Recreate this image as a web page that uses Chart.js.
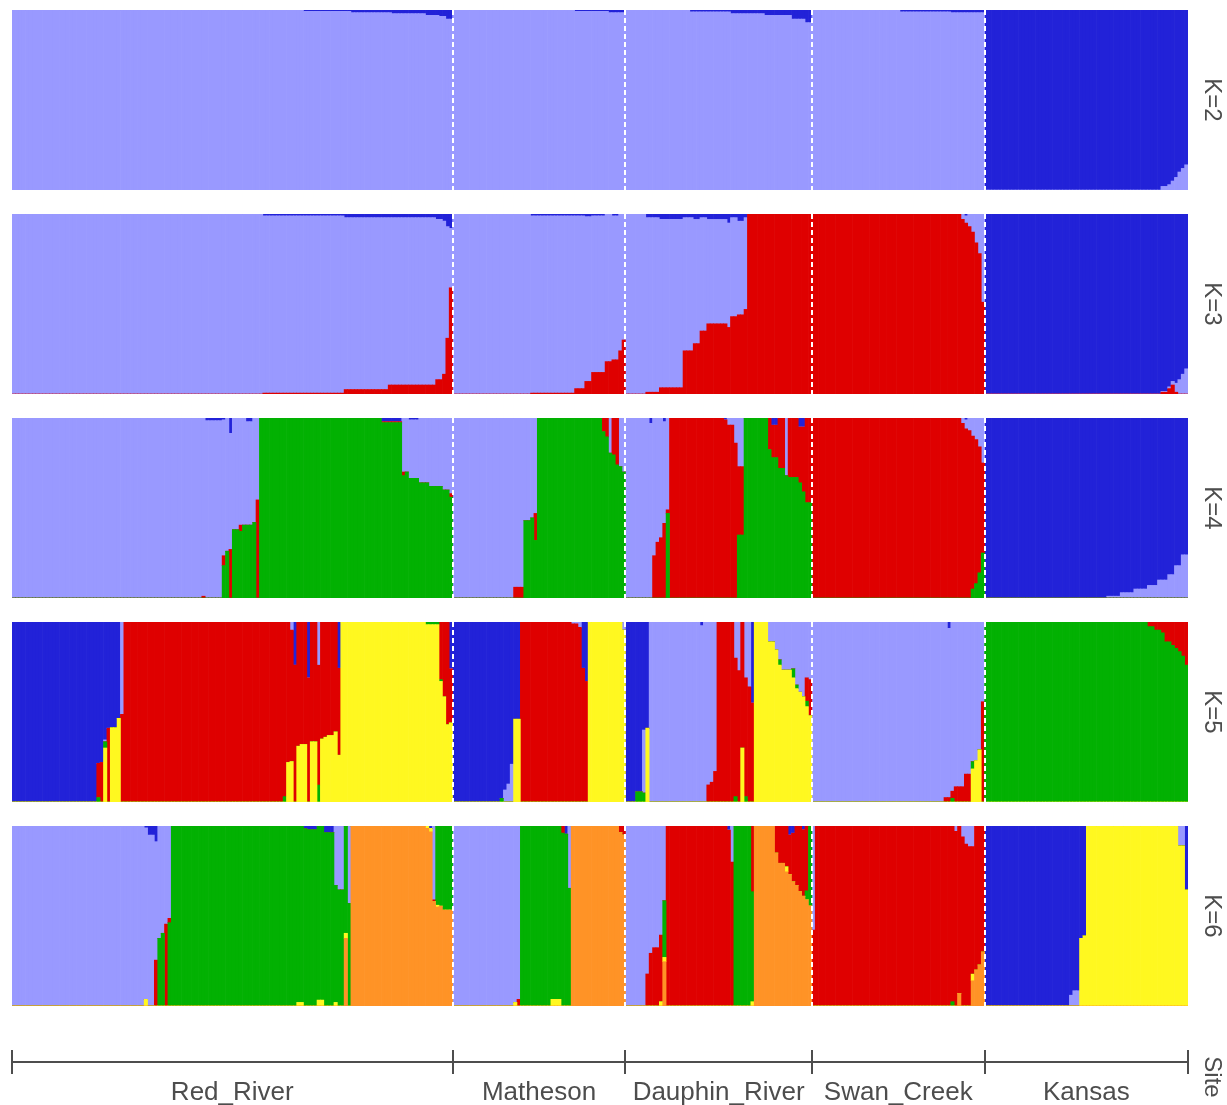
<!DOCTYPE html>
<html>
<head>
<meta charset="utf-8">
<title>Admixture proportions by site, K=2 to K=6</title>
<script src="https://cdn.jsdelivr.net/npm/chart.js@4.4.1/dist/chart.umd.min.js"></script>
<style>
  html, body { margin: 0; padding: 0; background: #ffffff; overflow: hidden; }
  #figure { position: relative; width: 1227px; height: 1105px; background: #ffffff; overflow: hidden; }
  #figure canvas { position: absolute; left: 0; }
  .strip {
    position: absolute; width: 180px; height: 30px; line-height: 30px;
    text-align: center; font-family: "Liberation Sans", Arial, sans-serif;
    font-size: 24px; color: #4d4d4d; transform: rotate(90deg);
  }
</style>
</head>
<body>
<div id="figure"></div>
<script>
// Sampling sites, left to right
const SITES = ['Red_River', 'Matheson', 'Dauphin_River', 'Swan_Creek', 'Kansas'];

// Cluster colours, listed from the top of each bar to the bottom
const CLUSTER_COLORS = ['#2222d8', '#9999ff', '#df0000', '#02b102', '#fff820', '#ff9326'];

const K_VALUES = [2, 3, 4, 5, 6];

// Membership runs per site: [number of individuals, q1, q2, ... qK]
// (cluster order as in CLUSTER_COLORS; omitted trailing entries are 0)

// ---------- K = 2 ----------
const K2_RED_RIVER = [
  [86, 0, 1], [14, 0.008, 0.992], [12, 0.015, 0.985], [10, 0.02, 0.98],
  [4, 0.03, 0.97], [2, 0.035, 0.965], [2, 0.05, 0.95]
];
const K2_MATHESON = [[36, 0, 1], [10, 0.008, 0.992], [5, 0.015, 0.985]];
const K2_DAUPHIN_RIVER = [
  [19, 0, 1], [12, 0.01, 0.99], [10, 0.02, 0.98], [8, 0.03, 0.97], [4, 0.05, 0.95], [2, 0.07, 0.93]
];
const K2_SWAN_CREEK = [[26, 0, 1], [15, 0.01, 0.99], [10, 0.015, 0.985]];
const K2_KANSAS = [
  [52, 1, 0], [2, 0.98, 0.02], [1, 0.97, 0.03], [1, 0.95, 0.05], [1, 0.93, 0.07],
  [1, 0.9, 0.1], [1, 0.88, 0.12], [1, 0.86, 0.14]
];

// ---------- K = 3 ----------
const K3_RED_RIVER = [
  [74, 0, 1, 0], [24, 0.01, 0.985, 0.005], [13, 0.02, 0.955, 0.025], [14, 0.02, 0.93, 0.05],
  [2, 0.03, 0.89, 0.08], [1, 0.04, 0.85, 0.11], [1, 0.07, 0.62, 0.31], [1, 0.08, 0.33, 0.59]
];
const K3_MATHESON = [
  [23, 0, 1, 0], [13, 0.01, 0.985, 0.005], [3, 0.01, 0.96, 0.03], [2, 0.015, 0.915, 0.07],
  [4, 0.01, 0.87, 0.12], [2, 0, 0.82, 0.18], [2, 0.01, 0.8, 0.19], [1, 0, 0.76, 0.24], [1, 0, 0.7, 0.3]
];
const K3_DAUPHIN_RIVER = [
  [6, 0, 1, 0], [4, 0.02, 0.97, 0.01], [7, 0.03, 0.935, 0.035], [3, 0.02, 0.74, 0.24],
  [2, 0.03, 0.69, 0.28], [2, 0.02, 0.63, 0.35], [6, 0.03, 0.58, 0.39], [1, 0.05, 0.58, 0.37],
  [2, 0.02, 0.55, 0.43], [2, 0.04, 0.52, 0.44], [1, 0.02, 0.51, 0.47], [19, 0, 0, 1]
];
const K3_SWAN_CREEK = [
  [44, 0, 0, 1], [1, 0, 0.03, 0.97], [1, 0.01, 0.04, 0.95], [1, 0, 0.07, 0.93],
  [1, 0, 0.1, 0.9], [1, 0, 0.16, 0.84], [1, 0, 0.22, 0.78], [1, 0, 0.49, 0.51]
];
const K3_KANSAS = [
  [52, 1, 0, 0], [2, 0.985, 0.005, 0.01], [1, 0.96, 0.01, 0.03], [1, 0.93, 0.02, 0.05],
  [1, 0.94, 0.05, 0.01], [1, 0.92, 0.08, 0], [1, 0.89, 0.11, 0], [1, 0.86, 0.14, 0]
];

// ---------- K = 4 ----------
const K4_RED_RIVER = [
  [56, 0, 1, 0, 0], [1, 0, 0.99, 0.01, 0], [5, 0.015, 0.985, 0, 0], [1, 0.01, 0.755, 0.055, 0.18],
  [1, 0, 0.74, 0, 0.26], [1, 0.085, 0.645, 0.27, 0], [1, 0, 0.62, 0, 0.38], [1, 0, 0.62, 0, 0.38],
  [1, 0, 0.595, 0.035, 0.37], [1, 0, 0.595, 0, 0.405], [2, 0.02, 0.575, 0, 0.405], [1, 0, 0.58, 0, 0.42],
  [1, 0, 0.455, 0.545, 0], [36, 0, 0, 0, 1], [6, 0.02, 0, 0.005, 0.975], [1, 0, 0.3, 0.02, 0.68],
  [1, 0, 0.3, 0, 0.7], [3, 0.01, 0.325, 0, 0.665], [3, 0, 0.36, 0, 0.64], [4, 0, 0.38, 0, 0.62],
  [2, 0, 0.4, 0, 0.6], [1, 0, 0.42, 0.02, 0.56]
];
const K4_MATHESON = [
  [18, 0, 1, 0, 0], [3, 0, 0.94, 0.06, 0], [2, 0, 0.57, 0, 0.43], [1, 0, 0.555, 0, 0.445],
  [1, 0, 0.53, 0.15, 0.32], [19, 0, 0, 0, 1], [1, 0, 0, 0.075, 0.925], [1, 0, 0, 0.105, 0.895],
  [1, 0, 0.195, 0, 0.805], [1, 0, 0, 0.205, 0.795], [1, 0, 0, 0.26, 0.74], [1, 0, 0.27, 0, 0.73],
  [1, 0, 0.3, 0, 0.7]
];
const K4_DAUPHIN_RIVER = [
  [7, 0, 1, 0, 0], [1, 0.03, 0.97, 0, 0], [1, 0, 0.765, 0.235, 0], [1, 0, 0.69, 0.31, 0],
  [1, 0, 0.665, 0.335, 0], [1, 0.02, 0.565, 0.415, 0], [1, 0, 0.51, 0.02, 0.47], [16, 0, 0, 1, 0],
  [1, 0.01, 0, 0.99, 0], [2, 0, 0.04, 0.96, 0], [1, 0, 0.14, 0.86, 0], [2, 0, 0.27, 0.38, 0.35],
  [7, 0, 0, 0, 1], [1, 0, 0, 0.175, 0.825], [2, 0.04, 0, 0.18, 0.78], [2, 0, 0, 0.28, 0.72],
  [1, 0, 0.32, 0, 0.68], [3, 0, 0, 0.33, 0.67], [1, 0.05, 0, 0.31, 0.64], [1, 0.05, 0, 0.36, 0.59],
  [2, 0, 0, 0.47, 0.53]
];
const K4_SWAN_CREEK = [
  [44, 0, 0, 1, 0], [1, 0, 0.03, 0.97, 0], [1, 0.01, 0.05, 0.94, 0], [1, 0, 0.07, 0.93, 0],
  [1, 0, 0.1, 0.85, 0.05], [1, 0, 0.12, 0.8, 0.08], [1, 0, 0.16, 0.7, 0.14], [1, 0, 0.25, 0.5, 0.25]
];
const K4_KANSAS = [
  [36, 1, 0, 0, 0], [4, 0.99, 0.01, 0, 0], [4, 0.97, 0.03, 0, 0], [4, 0.95, 0.05, 0, 0],
  [3, 0.93, 0.07, 0, 0], [3, 0.9, 0.1, 0, 0], [2, 0.87, 0.13, 0, 0], [2, 0.82, 0.18, 0, 0],
  [2, 0.76, 0.24, 0, 0]
];

// ---------- K = 5 ----------
const K5_RED_RIVER = [
  [25, 1, 0, 0, 0, 0], [1, 0.785, 0, 0.19, 0.025, 0], [1, 0.78, 0, 0.22, 0, 0],
  [1, 0.655, 0.01, 0, 0.035, 0.3], [1, 0.59, 0, 0.41, 0, 0], [2, 0.587, 0, 0, 0, 0.413],
  [1, 0.535, 0, 0, 0, 0.465], [1, 0, 0.513, 0.487, 0, 0], [47, 0, 0, 1, 0, 0],
  [1, 0, 0, 0.97, 0.03, 0], [1, 0, 0, 0.78, 0, 0.22], [1, 0, 0.045, 0.73, 0, 0.225],
  [1, 0.24, 0, 0.76, 0, 0], [1, 0, 0, 0.69, 0, 0.31], [2, 0, 0, 0.68, 0, 0.32],
  [1, 0.31, 0, 0.69, 0, 0], [2, 0, 0, 0.665, 0, 0.335], [1, 0, 0.24, 0.666, 0.094, 0],
  [1, 0, 0, 0.65, 0, 0.35], [1, 0, 0, 0.64, 0, 0.36], [2, 0, 0, 0.63, 0, 0.37],
  [1, 0, 0, 0.61, 0, 0.39], [1, 0.257, 0, 0.483, 0, 0.26], [25, 0, 0, 0, 0, 1],
  [4, 0, 0, 0, 0.015, 0.985], [1, 0, 0, 0.32, 0.01, 0.67], [1, 0, 0, 0.415, 0, 0.585],
  [1, 0, 0, 0.57, 0, 0.43], [1, 0.26, 0, 0.3, 0, 0.44]
];
const K5_MATHESON = [
  [14, 1, 0, 0, 0, 0], [1, 0.98, 0, 0, 0.02, 0], [1, 0.933, 0.067, 0, 0, 0], [1, 0.9, 0.1, 0, 0, 0],
  [1, 0.79, 0.21, 0, 0, 0], [2, 0.54, 0, 0, 0, 0.46], [15, 0, 0, 1, 0, 0], [2, 0, 0.01, 0.99, 0, 0],
  [1, 0, 0.03, 0.97, 0, 0], [1, 0.257, 0, 0.743, 0, 0], [1, 0.33, 0, 0.67, 0, 0],
  [10, 0, 0, 0, 0, 1], [1, 0, 0.045, 0, 0, 0.955]
];
const K5_DAUPHIN_RIVER = [
  [3, 1, 0, 0, 0, 0], [2, 0.943, 0, 0, 0.057, 0], [1, 0.6, 0.35, 0, 0.05, 0], [1, 0.59, 0, 0, 0, 0.41],
  [15, 0, 1, 0, 0, 0], [1, 0.02, 0.98, 0, 0, 0], [1, 0, 1, 0, 0, 0], [1, 0, 0.905, 0.095, 0, 0],
  [1, 0, 0.89, 0.11, 0, 0], [1, 0, 0.83, 0.17, 0, 0], [5, 0, 0, 1, 0, 0], [1, 0, 0.2, 0.77, 0.03, 0],
  [1, 0, 0.27, 0.73, 0, 0], [1, 0, 0, 0.7, 0, 0.3], [1, 0, 0.31, 0.66, 0.03, 0], [1, 0, 0.36, 0.64, 0, 0],
  [1, 0.45, 0, 0.55, 0, 0], [4, 0, 0, 0, 0, 1], [2, 0, 0.11, 0, 0, 0.89], [1, 0, 0.155, 0, 0, 0.845],
  [1, 0, 0.21, 0, 0.03, 0.76], [3, 0, 0.267, 0, 0, 0.733], [1, 0, 0.26, 0, 0.05, 0.69],
  [1, 0, 0.35, 0, 0.02, 0.63], [1, 0, 0.39, 0, 0, 0.61], [1, 0, 0.415, 0, 0, 0.585],
  [1, 0, 0.31, 0.13, 0.03, 0.53], [1, 0, 0.32, 0.2, 0, 0.48]
];
const K5_SWAN_CREEK = [
  [39, 0, 1, 0, 0, 0], [1, 0, 0.975, 0.025, 0, 0], [1, 0.035, 0.94, 0.025, 0, 0],
  [1, 0, 0.94, 0.04, 0.02, 0], [3, 0, 0.915, 0.085, 0, 0], [2, 0, 0.845, 0.155, 0, 0],
  [1, 0, 0.776, 0, 0.04, 0.184], [1, 0, 0.77, 0, 0, 0.23], [1, 0, 0.71, 0, 0, 0.29],
  [1, 0, 0.443, 0.557, 0, 0]
];
const K5_KANSAS = [
  [48, 0, 0, 0, 1, 0], [2, 0, 0, 0.026, 0.974, 0], [2, 0, 0, 0.045, 0.955, 0], [1, 0, 0, 0.06, 0.94, 0],
  [2, 0, 0, 0.11, 0.89, 0], [1, 0, 0, 0.13, 0.87, 0], [1, 0, 0, 0.146, 0.854, 0],
  [1, 0, 0, 0.165, 0.835, 0], [1, 0, 0, 0.19, 0.81, 0], [1, 0, 0, 0.24, 0.76, 0]
];

// ---------- K = 6 ----------
const K6_RED_RIVER = [
  [39, 0, 1, 0, 0, 0, 0], [1, 0.01, 0.953, 0, 0, 0.037, 0], [2, 0.05, 0.95, 0, 0, 0, 0],
  [1, 0.087, 0.658, 0.255, 0, 0, 0], [1, 0, 0.624, 0, 0.376, 0, 0], [1, 0, 0.596, 0, 0.404, 0, 0],
  [1, 0, 0.545, 0.455, 0, 0, 0], [1, 0, 0.513, 0.024, 0.463, 0, 0], [37, 0, 0, 0, 1, 0, 0],
  [2, 0, 0, 0, 0.98, 0.02, 0], [1, 0.015, 0, 0, 0.985, 0, 0], [3, 0.02, 0, 0, 0.98, 0, 0],
  [2, 0, 0, 0, 0.967, 0.033, 0], [3, 0.037, 0, 0, 0.963, 0, 0], [1, 0, 0.33, 0, 0.65, 0.02, 0],
  [2, 0, 0.355, 0, 0.645, 0, 0], [1, 0, 0, 0, 0.596, 0.028, 0.376], [1, 0, 0.43, 0, 0.57, 0, 0],
  [22, 0, 0, 0, 0, 0, 1], [1, 0, 0, 0, 0, 0.013, 0.987], [1, 0.013, 0, 0, 0, 0.02, 0.967],
  [1, 0, 0.41, 0.01, 0, 0, 0.58], [1, 0, 0, 0, 0.44, 0.01, 0.55], [1, 0, 0, 0, 0.445, 0, 0.555],
  [3, 0, 0, 0, 0.467, 0, 0.533]
];
const K6_MATHESON = [
  [18, 0, 1, 0, 0, 0, 0], [1, 0, 0.98, 0, 0, 0.02, 0], [1, 0, 0.963, 0.037, 0, 0, 0],
  [9, 0, 0, 0, 1, 0, 0], [3, 0, 0, 0, 0.963, 0.037, 0], [1, 0, 0, 0.04, 0.96, 0, 0],
  [1, 0.045, 0, 0, 0.955, 0, 0], [1, 0, 0.346, 0, 0.654, 0, 0], [14, 0, 0, 0, 0, 0, 1],
  [1, 0, 0, 0.037, 0, 0, 0.963], [1, 0, 0, 0.05, 0, 0, 0.95]
];
const K6_DAUPHIN_RIVER = [
  [6, 0, 1, 0, 0, 0, 0], [1, 0, 0.822, 0.178, 0, 0, 0], [1, 0, 0.707, 0.293, 0, 0, 0],
  [2, 0, 0.676, 0.324, 0, 0, 0], [1, 0, 0.606, 0.37, 0, 0.024, 0], [1, 0, 0.415, 0, 0.315, 0.024, 0.246],
  [18, 0, 0, 1, 0, 0, 0], [1, 0.022, 0, 0.978, 0, 0, 0], [1, 0, 0.2, 0.8, 0, 0, 0],
  [5, 0, 0, 0, 1, 0, 0], [1, 0, 0, 0.365, 0.611, 0.024, 0], [6, 0, 0, 0, 0, 0, 1],
  [1, 0, 0, 0.15, 0, 0, 0.85], [2, 0, 0, 0.207, 0, 0, 0.793], [1, 0, 0, 0.226, 0, 0.028, 0.746],
  [1, 0.05, 0, 0.22, 0, 0, 0.73], [1, 0.04, 0, 0.27, 0, 0, 0.69], [1, 0, 0, 0.33, 0, 0, 0.67],
  [1, 0, 0, 0.365, 0, 0, 0.635], [1, 0.02, 0, 0.37, 0, 0, 0.61], [1, 0, 0, 0.36, 0.05, 0, 0.59],
  [1, 0, 0, 0, 0.444, 0, 0.556]
];
const K6_SWAN_CREEK = [
  [1, 0, 0.578, 0.422, 0, 0, 0], [40, 0, 0, 1, 0, 0, 0], [1, 0, 0, 0.976, 0.024, 0, 0],
  [1, 0, 0.03, 0.97, 0, 0, 0], [1, 0, 0, 0.93, 0, 0, 0.07], [1, 0, 0.06, 0.94, 0, 0, 0],
  [1, 0, 0.1, 0.9, 0, 0, 0], [1, 0, 0.115, 0.885, 0, 0, 0], [1, 0, 0.115, 0.708, 0, 0.037, 0.14],
  [1, 0, 0, 0.8, 0, 0, 0.2], [1, 0, 0, 0.772, 0, 0, 0.228], [1, 0, 0, 0.7, 0, 0, 0.3]
];
const K6_KANSAS = [
  [25, 1, 0, 0, 0, 0, 0], [1, 0.94, 0.06, 0, 0, 0, 0], [2, 0.915, 0.085, 0, 0, 0, 0],
  [1, 0.624, 0, 0, 0, 0.376, 0], [1, 0.61, 0, 0, 0, 0.39, 0], [27, 0, 0, 0, 0, 1, 0],
  [2, 0, 0.11, 0, 0, 0.89, 0], [1, 0.355, 0, 0, 0, 0.645, 0]
];

const RUNS_BY_K = {
  2: [K2_RED_RIVER, K2_MATHESON, K2_DAUPHIN_RIVER, K2_SWAN_CREEK, K2_KANSAS],
  3: [K3_RED_RIVER, K3_MATHESON, K3_DAUPHIN_RIVER, K3_SWAN_CREEK, K3_KANSAS],
  4: [K4_RED_RIVER, K4_MATHESON, K4_DAUPHIN_RIVER, K4_SWAN_CREEK, K4_KANSAS],
  5: [K5_RED_RIVER, K5_MATHESON, K5_DAUPHIN_RIVER, K5_SWAN_CREEK, K5_KANSAS],
  6: [K6_RED_RIVER, K6_MATHESON, K6_DAUPHIN_RIVER, K6_SWAN_CREEK, K6_KANSAS]
};

// Layout of the figure (pixels)
const PLOT_LEFT = 12, PLOT_RIGHT = 1188, FIG_WIDTH = 1227;
const PANEL_TOP = [10, 214, 418, 622, 826];
const PANEL_HEIGHT = 180;
const TEXT_COLOR = '#4d4d4d';
const FONT = '"Liberation Sans", Arial, sans-serif';

// Expand runs into one membership row per individual; rows are rescaled to sum to 1
function expandRuns(siteRuns, k) {
  const rows = [], sizes = [];
  siteRuns.forEach(runs => {
    let n = 0;
    runs.forEach(run => {
      const q = [];
      for (let c = 0; c < k; c++) q.push(run[c + 1] || 0);
      const total = q.reduce((a, b) => a + b, 0) || 1;
      for (let i = 0; i < run[0]; i++) rows.push(q.map(v => v / total));
      n += run[0];
    });
    sizes.push(n);
  });
  return { rows, sizes };
}

// White dashed separators between sites
const siteDividers = {
  id: 'siteDividers',
  afterDatasetsDraw(chart, args, opts) {
    const { ctx, chartArea, scales } = chart;
    const x = scales.x;
    ctx.save();
    ctx.strokeStyle = '#ffffff';
    ctx.lineWidth = 2;
    ctx.setLineDash([5, 3]);
    opts.breaks.forEach(b => {
      const px = Math.round((x.getPixelForValue(b - 1) + x.getPixelForValue(b)) / 2);
      ctx.beginPath();
      ctx.moveTo(px, chartArea.top);
      ctx.lineTo(px, chartArea.bottom);
      ctx.stroke();
    });
    ctx.restore();
  }
};

const figure = document.getElementById('figure');
let siteSizes = null;

K_VALUES.forEach((k, p) => {
  const { rows, sizes } = expandRuns(RUNS_BY_K[k], k);
  siteSizes = siteSizes || sizes;
  const breaks = [];
  sizes.reduce((acc, n, i) => { if (i < sizes.length - 1) breaks.push(acc + n); return acc + n; }, 0);

  const canvas = document.createElement('canvas');
  canvas.width = FIG_WIDTH;
  canvas.height = PANEL_HEIGHT;
  canvas.style.top = PANEL_TOP[p] + 'px';
  figure.appendChild(canvas);

  const labels = rows.map((_, i) => String(i + 1));
  const datasets = [];
  for (let c = k - 1; c >= 0; c--) {
    datasets.push({
      label: 'Cluster ' + (c + 1),
      data: rows.map(r => r[c]),
      backgroundColor: CLUSTER_COLORS[c],
      borderWidth: 0,
      barPercentage: 1,
      categoryPercentage: 1
    });
  }

  new Chart(canvas, {
    type: 'bar',
    data: { labels, datasets },
    options: {
      responsive: false,
      animation: false,
      events: [],
      layout: { padding: { left: PLOT_LEFT, right: FIG_WIDTH - PLOT_RIGHT, top: 0, bottom: 0 } },
      plugins: { legend: { display: false }, tooltip: { enabled: false }, siteDividers: { breaks } },
      scales: {
        x: { stacked: true, display: false },
        y: { stacked: true, display: false, min: 0, max: 1 }
      }
    },
    plugins: [siteDividers]
  });

  const strip = document.createElement('div');
  strip.className = 'strip';
  strip.textContent = 'K=' + k;
  strip.style.left = (1213 - 90) + 'px';
  strip.style.top = (PANEL_TOP[p] + PANEL_HEIGHT / 2 - 15) + 'px';
  figure.appendChild(strip);
});

// Site axis along the bottom: boundary ticks (even positions) and centred site names (odd positions)
const total = siteSizes.reduce((a, b) => a + b, 0);
const axisTicks = [0];
const axisLabels = [''];
let acc = 0;
siteSizes.forEach((n, i) => {
  axisTicks.push(acc + n / 2); axisLabels.push(SITES[i]);
  acc += n;
  axisTicks.push(acc); axisLabels.push('');
});

const axisCanvas = document.createElement('canvas');
axisCanvas.width = FIG_WIDTH;
axisCanvas.height = 65;
axisCanvas.style.top = '1040px';
figure.appendChild(axisCanvas);

new Chart(axisCanvas, {
  type: 'scatter',
  data: { datasets: [] },
  options: {
    responsive: false,
    animation: false,
    events: [],
    layout: { padding: { left: PLOT_LEFT, right: FIG_WIDTH - PLOT_RIGHT, top: 10, bottom: 0 } },
    plugins: { legend: { display: false }, tooltip: { enabled: false } },
    scales: {
      x: {
        type: 'linear', min: 0, max: total, offset: false,
        afterBuildTicks: scale => { scale.ticks = axisTicks.map(v => ({ value: v })); },
        afterFit: scale => { scale.height = 43; },
        grid: {
          offset: false,
          drawOnChartArea: true,
          drawTicks: true,
          tickLength: 12,
          lineWidth: 2,
          color: ctx => (ctx.index % 2 === 0 ? TEXT_COLOR : 'rgba(0,0,0,0)')
        },
        border: { display: true, color: TEXT_COLOR, width: 2 },
        ticks: {
          autoSkip: false, maxRotation: 0, minRotation: 0, padding: 6,
          color: TEXT_COLOR,
          font: { family: FONT, size: 26, lineHeight: 1 },
          callback: (value, index) => axisLabels[index]
        }
      },
      y: { display: false }
    }
  }
});

const siteStrip = document.createElement('div');
siteStrip.className = 'strip';
siteStrip.textContent = 'Site';
siteStrip.style.left = (1213 - 90) + 'px';
siteStrip.style.top = (1077 - 15) + 'px';
figure.appendChild(siteStrip);
</script>
</body>
</html>
